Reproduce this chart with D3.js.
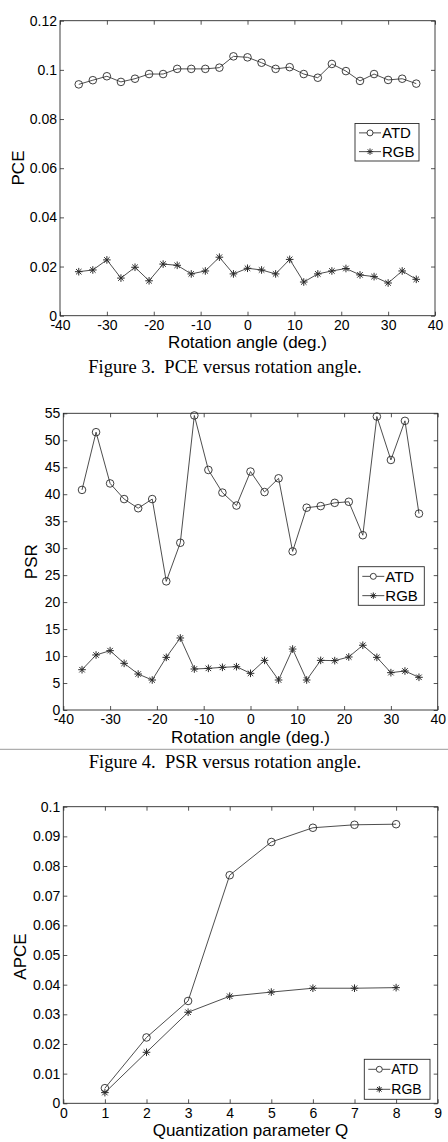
<!DOCTYPE html>
<html>
<head>
<meta charset="utf-8">
<script src="https://cdn.jsdelivr.net/npm/d3@7"></script>
<style>
  body { margin: 0; background: #fff; }
  svg { display: block; }
  .tick text { font-family: "Liberation Sans", Arial, sans-serif; fill: #000; }
  .title { font-family: "Liberation Sans", Arial, sans-serif; fill: #000; }
  .caption { font-family: "Liberation Serif", "Times New Roman", serif; fill: #000; white-space: pre; }
</style>
</head>
<body>
<svg width="448" height="1142"></svg>
<script>
// data
var angles = [-36, -33, -30, -27, -24, -21, -18, -15, -12, -9, -6, -3, 0, 3, 6, 9, 12, 15, 18, 21, 24, 27, 30, 33, 36];
var angleTicks = [-40, -30, -20, -10, 0, 10, 20, 30, 40];

var pceATD = [0.0941, 0.0958, 0.0974, 0.0951, 0.0964, 0.0983, 0.0983, 0.1004, 0.1004, 0.1004, 0.1009, 0.1055, 0.1051,
              0.1029, 0.1004, 0.1011, 0.0983, 0.0968, 0.1024, 0.0995, 0.0955, 0.0983, 0.0959, 0.0964, 0.0944];
var pceRGB = [0.0179, 0.0186, 0.0227, 0.0153, 0.0197, 0.0142, 0.0210, 0.0205, 0.0170, 0.0182, 0.0238, 0.0170, 0.0193,
              0.0186, 0.0170, 0.0229, 0.0137, 0.0170, 0.0182, 0.0192, 0.0166, 0.0159, 0.0133, 0.0182, 0.0148];
var pceTicks = [0, 0.02, 0.04, 0.06, 0.08, 0.1, 0.12];

var psrATD = [40.8, 51.5, 42.0, 39.1, 37.4, 39.1, 23.85, 31.0, 54.6, 44.5, 40.3, 37.9, 44.2,
              40.4, 42.95, 29.4, 37.5, 37.8, 38.4, 38.6, 32.4, 54.4, 46.35, 53.6, 36.4];
var psrRGB = [7.47, 10.2, 11.0, 8.65, 6.67, 5.56, 9.76, 13.35, 7.6, 7.72, 7.91, 8.03, 6.8,
              9.2, 5.56, 11.3, 5.56, 9.2, 9.15, 9.83, 12.0, 9.76, 6.92, 7.23, 6.06];
var psrTicks = [0, 5, 10, 15, 20, 25, 30, 35, 40, 45, 50, 55];

var qValues = [1, 2, 3, 4, 5, 6, 7, 8];
var qTicks = [0, 1, 2, 3, 4, 5, 6, 7, 8, 9];
var apceATD = [0.0051, 0.0222, 0.0345, 0.0769, 0.0881, 0.0929, 0.0939, 0.0941];
var apceRGB = [0.0036, 0.0172, 0.0307, 0.0361, 0.0375, 0.0388, 0.0388, 0.0390];
var apceTicks = [0, 0.01, 0.02, 0.03, 0.04, 0.05, 0.06, 0.07, 0.08, 0.09, 0.1];

var seriesNames = ['ATD', 'RGB'];

var svg = d3.select('svg');
var ink = '#2a2a2a';

function fmt(d) { return String(+d.toFixed(4)); }

// asterisk marker: + and x on top of each other
function starPath(r) {
  var k = r * 0.72;
  return 'M0,' + (-r) + 'V' + r + 'M' + (-r) + ',0H' + r +
         'M' + (-k) + ',' + (-k) + 'L' + k + ',' + k + 'M' + (-k) + ',' + k + 'L' + k + ',' + (-k);
}

function drawChart(c) {
  var g = svg.append('g');
  var x = d3.scaleLinear().domain(c.xDomain).range([c.left, c.right]);
  var y = d3.scaleLinear().domain(c.yDomain).range([c.bottom, c.top]);

  var axB = g.append('g').attr('transform', 'translate(0,' + c.bottom + ')')
    .call(d3.axisBottom(x).tickValues(c.xTicks).tickFormat(fmt).tickSize(-4).tickPadding(c.xPad));
  var axT = g.append('g').attr('transform', 'translate(0,' + c.top + ')')
    .call(d3.axisTop(x).tickValues(c.xTicks).tickFormat('').tickSize(-4));
  var axL = g.append('g').attr('transform', 'translate(' + c.left + ',0)')
    .call(d3.axisLeft(y).tickValues(c.yTicks).tickFormat(fmt).tickSize(-4).tickPadding(3));
  var axR = g.append('g').attr('transform', 'translate(' + c.right + ',0)')
    .call(d3.axisRight(y).tickValues(c.yTicks).tickFormat('').tickSize(-4));

  [axB, axT, axL, axR].forEach(function(a) {
    a.select('.domain').remove();
    a.selectAll('.tick line').attr('stroke', ink).attr('stroke-width', 0.8);
    a.selectAll('.tick text').style('font-size', '14px');
  });

  g.append('rect')
    .attr('x', c.left).attr('y', c.top)
    .attr('width', c.right - c.left).attr('height', c.bottom - c.top)
    .attr('fill', 'none').attr('stroke', ink).attr('stroke-width', 0.9);

  var line = d3.line()
    .x(function(d) { return x(d[0]); })
    .y(function(d) { return y(d[1]); });

  var s1 = c.xs.map(function(v, i) { return [v, c.a[i]]; });
  var s2 = c.xs.map(function(v, i) { return [v, c.b[i]]; });

  [s1, s2].forEach(function(s) {
    g.append('path').datum(s).attr('d', line)
      .attr('fill', 'none').attr('stroke', '#3a3a3a').attr('stroke-width', 0.9);
  });

  g.selectAll('circle.atd').data(s1).enter().append('circle')
    .attr('class', 'atd')
    .attr('cx', function(d) { return x(d[0]); })
    .attr('cy', function(d) { return y(d[1]); })
    .attr('r', 3.8)
    .attr('fill', 'none').attr('stroke', ink).attr('stroke-width', 0.9);

  g.selectAll('path.rgb').data(s2).enter().append('path')
    .attr('class', 'rgb')
    .attr('transform', function(d) { return 'translate(' + x(d[0]) + ',' + y(d[1]) + ')'; })
    .attr('d', starPath(3.8))
    .attr('fill', 'none').attr('stroke', ink).attr('stroke-width', 1);

  // legend
  var lg = c.legend;
  g.append('rect')
    .attr('x', lg.x0).attr('y', lg.y0)
    .attr('width', lg.x1 - lg.x0).attr('height', lg.y1 - lg.y0)
    .attr('fill', '#fff').attr('stroke', ink).attr('stroke-width', 0.9);
  var rowH = (lg.y1 - lg.y0) / 2;
  seriesNames.forEach(function(name, i) {
    var cy = lg.y0 + rowH * (i + 0.5);
    g.append('line')
      .attr('x1', lg.x0 + 4).attr('x2', lg.x0 + 26)
      .attr('y1', cy).attr('y2', cy)
      .attr('stroke', '#3a3a3a').attr('stroke-width', 0.9);
    if (i === 0) {
      g.append('circle').attr('cx', lg.x0 + 15).attr('cy', cy).attr('r', 3)
        .attr('fill', '#fff').attr('stroke', ink).attr('stroke-width', 0.9);
    } else {
      g.append('path').attr('transform', 'translate(' + (lg.x0 + 15) + ',' + cy + ')')
        .attr('d', starPath(3.2)).attr('fill', 'none').attr('stroke', ink);
    }
    g.append('text').attr('class', 'title')
      .attr('x', lg.x0 + 27).attr('y', cy).attr('dy', '0.36em')
      .style('font-size', lg.font + 'px')
      .text(name);
  });

  // axis titles
  g.append('text').attr('class', 'title')
    .attr('x', (c.left + c.right) / 2).attr('y', c.xTitleY)
    .attr('text-anchor', 'middle').style('font-size', '17px')
    .text(c.xTitle);
  g.append('text').attr('class', 'title')
    .attr('transform', 'translate(' + c.yTitleX + ',' + c.yTitleC + ') rotate(-90)')
    .attr('text-anchor', 'middle').style('font-size', '17px')
    .text(c.yTitle);

  if (c.caption) {
    g.append('text').attr('class', 'caption')
      .attr('x', 225).attr('y', c.captionY)
      .attr('text-anchor', 'middle').style('font-size', '18.5px')
      .text(c.caption);
  }
}

drawChart({
  left: 60, right: 435, top: 20.7, bottom: 315.7,
  xDomain: [-40, 40], yDomain: [0, 0.12], xTicks: angleTicks, yTicks: pceTicks, xPad: 4.3,
  xs: angles, a: pceATD, b: pceRGB,
  legend: { x0: 355, x1: 419, y0: 123.5, y1: 161, font: 15 },
  xTitle: 'Rotation angle (deg.)', xTitleY: 348,
  yTitle: 'PCE', yTitleX: 24, yTitleC: 168,
  caption: 'Figure 3.  PCE versus rotation angle.', captionY: 372.5
});

drawChart({
  left: 63.3, right: 437.7, top: 413.3, bottom: 710,
  xDomain: [-40, 40], yDomain: [0, 55], xTicks: angleTicks, yTicks: psrTicks, xPad: 4,
  xs: angles, a: psrATD, b: psrRGB,
  legend: { x0: 358.3, x1: 424.3, y0: 566.7, y1: 605.3, font: 15 },
  xTitle: 'Rotation angle (deg.)', xTitleY: 742.5,
  yTitle: 'PSR', yTitleX: 37, yTitleC: 561.7,
  caption: 'Figure 4.  PSR versus rotation angle.', captionY: 767.5
});

// thin rule under the second chart
svg.append('line')
  .attr('x1', 0).attr('x2', 448).attr('y1', 749.3).attr('y2', 749.3)
  .attr('stroke', '#9a9a9a').attr('stroke-width', 1);

drawChart({
  left: 63.3, right: 437.7, top: 806.7, bottom: 1103.3,
  xDomain: [0, 9], yDomain: [0, 0.1], xTicks: qTicks, yTicks: apceTicks, xPad: 5,
  xs: qValues, a: apceATD, b: apceRGB,
  legend: { x0: 364.3, x1: 430, y0: 1059.3, y1: 1099.3, font: 14 },
  xTitle: 'Quantization parameter Q', xTitleY: 1136,
  yTitle: 'APCE', yTitleX: 26, yTitleC: 956.5
});
</script>
</body>
</html>
